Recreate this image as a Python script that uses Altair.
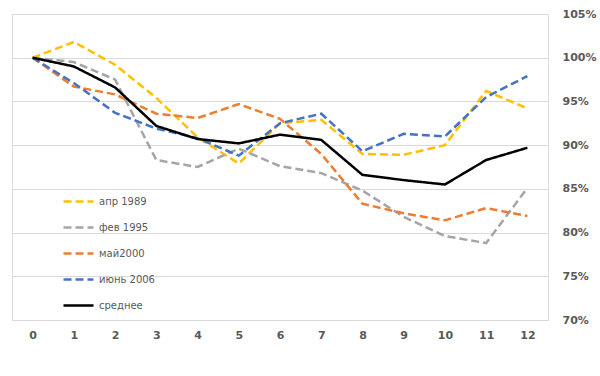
import altair as alt
import pandas as pd

months = list(range(13))
series_names = ["апр 1989", "фев 1995", "май2000", "июнь 2006", "среднее"]
apr1989 = [100, 101.8, 99.2, 95.4, 90.9, 87.9, 92.5, 92.9, 89.0, 88.9, 90.0, 96.2, 94.2]
feb1995 = [100, 99.5, 97.5, 88.3, 87.5, 89.6, 87.6, 86.8, 84.8, 81.8, 79.6, 78.8, 85.1]
may2000 = [100, 96.7, 95.8, 93.6, 93.1, 94.7, 93.0, 89.0, 83.3, 82.2, 81.4, 82.8, 81.9]
jun2006 = [100, 97.1, 93.7, 91.9, 90.8, 88.8, 92.5, 93.6, 89.3, 91.3, 91.0, 95.5, 97.9]
average = [100, 99.0, 96.6, 92.2, 90.7, 90.2, 91.2, 90.6, 86.6, 86.0, 85.5, 88.3, 89.7]
colors = ["#FFC000", "#A5A5A5", "#ED7D31", "#4472C4", "#000000"]
y_ticks = [0.70, 0.75, 0.80, 0.85, 0.90, 0.95, 1.00, 1.05]

rows = []
for name, vals in zip(series_names, [apr1989, feb1995, may2000, jun2006, average]):
    for m, v in zip(months, vals):
        rows.append({"month": m, "value": v / 100, "series": name})
df = pd.DataFrame(rows)

legend = alt.Legend(
    title=None, orient="none", legendX=50, legendY=171,
    symbolType="stroke", symbolSize=900, symbolStrokeWidth=3,
    rowPadding=4, labelFontSize=10, labelColor="#595959",
    labelFont="DejaVu Sans", labelOffset=4,
)

chart = alt.Chart(df).mark_line().encode(
    x=alt.X("month:Q", scale=alt.Scale(domain=[-0.5, 12.5], nice=False),
            axis=alt.Axis(values=months, title=None, grid=False, ticks=False, domain=False,
                          labelFontWeight="bold", labelFontSize=11, labelColor="#595959",
                          labelPadding=9, labelFont="DejaVu Sans")),
    y=alt.Y("value:Q", scale=alt.Scale(domain=[0.70, 1.05], nice=False, zero=False),
            axis=alt.Axis(orient="right", values=y_ticks, format=".0%", title=None,
                          ticks=False, domain=False, gridColor="#D9D9D9", gridWidth=1,
                          labelFontWeight="bold", labelFontSize=11, labelColor="#595959",
                          labelPadding=14, labelFont="DejaVu Sans")),
    color=alt.Color("series:N", scale=alt.Scale(domain=series_names, range=colors), legend=legend),
    strokeDash=alt.StrokeDash("series:N", scale=alt.Scale(domain=series_names,
                              range=[[8, 4], [8, 4], [8, 4], [8, 4], [1, 0]]), legend=legend),
    strokeWidth=alt.StrokeWidth("series:N", scale=alt.Scale(domain=series_names,
                                range=[2.5, 2.5, 2.5, 2.5, 3.5]), legend=legend),
    order=alt.Order("series:N"),
).properties(
    width=536, height=306,
    padding={"left": 12, "top": 14, "right": 52, "bottom": 56},
    autosize=alt.AutoSizeParams(type="none"),
).configure_view(stroke=None).configure(background="white")

chart.save("out.html", embed_options={"renderer": "svg", "actions": False})
